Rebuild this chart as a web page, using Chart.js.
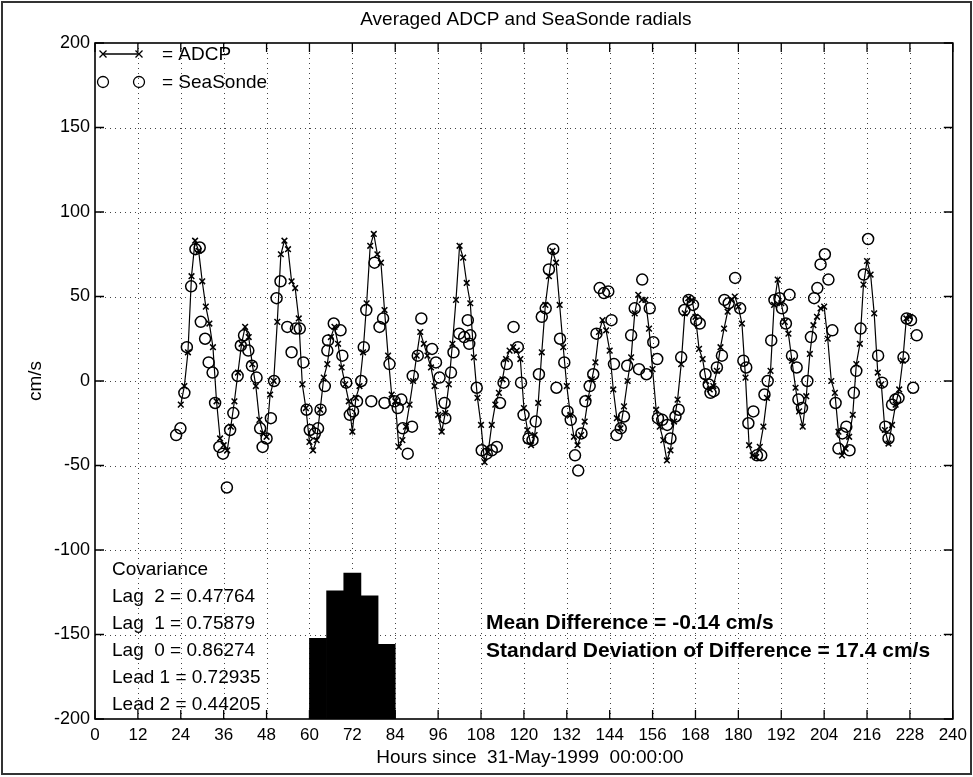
<!DOCTYPE html>
<html>
<head>
<meta charset="utf-8">
<title>Averaged ADCP and SeaSonde radials</title>
<script src="https://cdn.jsdelivr.net/npm/chart.js@4.4.1/dist/chart.umd.min.js"></script>
<style>
  html, body { margin: 0; padding: 0; background: #fff; }
  canvas { display: block; }
</style>
</head>
<body>
<canvas id="chart" width="973" height="777"></canvas>
<script>
// 🔹 DATA
// ADCP radial, one value per hour starting at hour 24
const adcpStartHour = 24;
const adcpValues = [
  -14, -3, 17, 62, 83, 77, 59, 44, 34, 20, -12, -34,      // 24-35
  -38, -41, -27, -12, 5, 22, 32, 26, 10, -3, -23, -31,    // 36-47
  -33, -8, 0, 35, 75, 83, 78, 59, 55, 37, -2, -16,        // 48-59
  -36, -41, -35, -17, 2, 10, 26, 32, 22, 8, -2, -12,      // 60-71
  -30, -10, -3, 17, 46, 80, 87, 75, 70, 42, 15, -8,       // 72-83
  -12, -39, -35, -27, -14, 0, 15, 29, 22, 15, 8, -3,      // 84-95
  -20, -30, -19, -2, 22, 48, 80, 73, 58, 46, 14, -10,     // 96-107
  -26, -48, -42, -26, -14, -7, 1, 13, 18, 20, 18, 13,     // 108-119
  -16, -29, -38, -32, -13, 17, 45, 62, 77, 70, 45, 20,    // 120-131
  -3, -20, -33, -38, -32, -24, -10, 1, 11, 29, 36, 30,    // 132-143
  18, -5, -22, -28, -15, 0, 14, 40, 51, 48, 48, 31,       // 144-155
  7, -17, -27, -35, -47, -41, -24, -11, 10, 40, 49, 48,   // 156-167
  38, 19, 13, 0, -5, -3, 6, 20, 31, 41, 48, 50,           // 168-179
  44, 34, 2, -38, -44, -45, -39, -27, -10, 6, 45, 60,     // 180-191
  46, 35, 28, 12, -4, -18, -27, -9, 16, 33, 38, 43,       // 192-203
  44, 25, 0, -7, -30, -44, -40, -33, -20, 10, 22, 57,     // 204-215
  71, 63, 40, 5, -2, -29, -37, -26, -14, -5, 12, 37,      // 216-227
  38                                                      // 228
];

// SeaSonde radial (hours since start, cm/s)
const sondeHours = [
  22.7, 23.9, 25.0, 25.7, 26.9, 28.1, 29.3, 29.6, 30.8, 31.8, 32.9, 33.6,
  34.8, 35.8, 36.9, 37.8, 38.7, 39.9, 40.8, 41.7, 42.9, 43.9, 45.2, 46.2,
  46.9, 48.0, 49.2, 50.1, 50.8, 51.9, 53.8, 55.0, 56.2, 57.3, 58.3, 59.2,
  60.1, 61.5, 62.4, 63.1, 64.3, 65.0, 65.2, 66.8, 68.7, 69.2, 70.3, 71.3,
  72.2, 73.3, 74.5, 75.2, 75.9, 77.3, 78.2, 79.6, 80.6, 81.0, 82.4, 83.8,
  84.7, 85.7, 86.1, 87.5, 88.7, 88.9, 90.3, 91.3, 94.3, 95.4, 96.4, 97.8,
  98.0, 99.6, 100.3, 101.9, 103.3, 104.3, 104.7, 105.0, 106.8, 108.2, 109.6, 111.0,
  112.4, 113.3, 114.3, 115.2, 117.1, 118.3, 119.2, 119.9, 121.3, 122.4, 123.3, 124.2,
  125.0, 126.1, 127.0, 128.2, 129.1, 130.1, 131.3, 132.2, 133.1, 134.3, 135.2, 136.1,
  137.2, 138.4, 139.4, 140.3, 141.2, 142.4, 143.6, 144.5, 145.2, 145.9, 147.1, 148.0,
  148.9, 150.0, 151.0, 152.2, 153.1, 154.3, 155.2, 156.2, 157.3, 157.5, 158.7, 160.1,
  161.0, 162.4, 163.3, 164.0, 164.9, 166.1, 167.3, 168.2, 169.2, 170.8, 171.7, 172.2,
  173.1, 174.0, 175.4, 176.1, 177.3, 179.1, 180.5, 181.4, 182.2, 182.8, 184.2, 185.2,
  186.4, 187.3, 188.2, 189.2, 190.1, 191.5, 192.2, 193.3, 194.3, 195.0, 196.3, 196.8,
  197.8, 199.3, 200.3, 201.2, 202.1, 203.0, 204.2, 205.2, 206.3, 207.2, 208.0, 209.1,
  210.2, 211.1, 212.3, 213.0, 214.2, 215.1, 216.3, 219.1, 220.2, 221.1, 222.0, 223.0,
  223.9, 224.8, 226.2, 227.1, 228.3, 228.9, 229.9
];
const sondeValues = [
  -32, -28, -7, 20, 56, 78, 79, 35, 25, 11, 5, -13,
  -39, -43, -63, -29, -19, 3, 21, 27, 18, 9, 2, -28,
  -39, -34, -22, 0, 49, 59, 32, 17, 31, 31, 11, -17,
  -29, -31, -28, -17, -3, 18, 24, 34, 30, 15, -1, -20,
  -18, -12, 0, 20, 42, -12, 70, 32, 37, -13, 10, -12,
  -16, -11, -28, -43, -27, 3, 15, 37, 19, 11, 2, -13,
  -22, 5, 17, 28, 26, 36, 22, 27, -4, -41, -43, -41,
  -39, -13, -1, 10, 32, 20, -1, -20, -34, -35, -24, 4,
  38, 43, 66, 78, -4, 25, 11, -18, -23, -44, -53, -31,
  -12, -3, 4, 28, 55, 52, 53, 36, 10, -32, -28, -21,
  9, 27, 43, 7, 60, 4, 43, 23, 13, -22, -23, -26,
  -34, -21, -17, 14, 42, 48, 45, 36, 34, 4, -2, -7,
  -6, 8, 15, 48, 46, 61, 43, 12, 8, -25, -18, -44,
  -44, -8, 0, 24, 48, 49, 43, 34, 51, 15, 8, -11,
  -16, 0, 26, 49, 55, 69, 75, 60, 30, -13, -40, -31,
  -27, -41, -7, 6, 31, 63, 84, 15, -1, -27, -34, -14,
  -11, -10, 14, 37, 36, -4, 27
];

// lagged covariance, drawn as bars standing on the bottom axis
const covLabels = ["Lag  2", "Lag  1", "Lag  0", "Lead 1", "Lead 2"];
const covValues = [0.47764, 0.75879, 0.86274, 0.72935, 0.44205];
const covBarHours = [62.4, 67.2, 72.0, 76.8, 81.6];
const covScale = 100; // bar height in cm/s units per unit covariance

const meanDifference = -0.14;
const stdDifference = 17.4;

// axes
const xMin = 0, xMax = 240, xStep = 12;
const yMin = -200, yMax = 200, yStep = 50;

const FONT = '"Liberation Sans", Arial, Helvetica, sans-serif';

const adcpPoints = adcpValues.map((v, i) => ({ x: adcpStartHour + i, y: v }));
const sondePoints = sondeHours.map((h, i) => ({ x: h, y: sondeValues[i] }));
const covPoints = covBarHours.map((h, i) => ({ x: h, y: [yMin, yMin + covValues[i] * covScale] }));

// 🔹 MATLAB STYLE AXES BOX, GRID, LEGEND, TEXT
const matlabAxes = {
  id: "matlabAxes",
  beforeDraw(chart) {
    const ctx = chart.ctx;
    ctx.save();
    ctx.fillStyle = "#fff";
    ctx.fillRect(0, 0, chart.width, chart.height);
    // outer frame of the figure
    ctx.strokeStyle = "#333";
    ctx.lineWidth = 2;
    ctx.strokeRect(2, 2, chart.width - 4, chart.height - 5);
    ctx.restore();
  },
  beforeDatasetsDraw(chart) {
    const { ctx, chartArea: a, scales: { x, y } } = chart;
    ctx.save();
    ctx.strokeStyle = "#444";
    ctx.lineWidth = 1;
    ctx.setLineDash([1, 4]);
    x.ticks.forEach(t => {
      if (t.value <= x.min || t.value >= x.max) return;
      const px = Math.round(x.getPixelForValue(t.value)) + 0.5;
      ctx.beginPath(); ctx.moveTo(px, a.top); ctx.lineTo(px, a.bottom); ctx.stroke();
    });
    y.ticks.forEach(t => {
      if (t.value <= y.min || t.value >= y.max) return;
      const py = Math.round(y.getPixelForValue(t.value)) + 0.5;
      ctx.beginPath(); ctx.moveTo(a.left, py); ctx.lineTo(a.right, py); ctx.stroke();
    });
    ctx.restore();
  },
  afterDatasetsDraw(chart) {
    const { ctx, chartArea: a, scales: { x, y } } = chart;
    ctx.save();

    // box + inner ticks
    ctx.strokeStyle = "#000";
    ctx.lineWidth = 1.6;
    ctx.strokeRect(a.left, a.top, a.right - a.left, a.bottom - a.top);
    const tl = 9;
    ctx.lineWidth = 1.3;
    x.ticks.forEach(t => {
      const px = x.getPixelForValue(t.value);
      ctx.beginPath();
      ctx.moveTo(px, a.bottom); ctx.lineTo(px, a.bottom - tl);
      ctx.moveTo(px, a.top); ctx.lineTo(px, a.top + tl);
      ctx.stroke();
    });
    y.ticks.forEach(t => {
      const py = y.getPixelForValue(t.value);
      ctx.beginPath();
      ctx.moveTo(a.left, py); ctx.lineTo(a.left + tl, py);
      ctx.moveTo(a.right, py); ctx.lineTo(a.right - tl, py);
      ctx.stroke();
    });

    // legend (top left, inside the axes)
    const lx1 = a.left + 8, lx2 = a.left + 44, ltx = a.left + 67;
    const ly1 = a.top + 11, ly2 = a.top + 39;
    ctx.lineWidth = 1.3;
    ctx.beginPath(); ctx.moveTo(lx1, ly1); ctx.lineTo(lx2, ly1); ctx.stroke();
    [lx1, lx2].forEach(cx => {
      ctx.beginPath();
      ctx.moveTo(cx - 3.5, ly1 - 3.5); ctx.lineTo(cx + 3.5, ly1 + 3.5);
      ctx.moveTo(cx - 3.5, ly1 + 3.5); ctx.lineTo(cx + 3.5, ly1 - 3.5);
      ctx.stroke();
      ctx.beginPath(); ctx.arc(cx, ly2, 5.5, 0, Math.PI * 2); ctx.stroke();
    });
    ctx.fillStyle = "#000";
    ctx.font = "19px " + FONT;
    ctx.textAlign = "left";
    ctx.textBaseline = "middle";
    ctx.fillText("= ADCP", ltx, ly1 + 1);
    ctx.fillText("= SeaSonde", ltx, ly2 + 1);

    // covariance table
    const cx0 = a.left + 17;
    let cy = a.bottom - 149;
    ctx.fillText("Covariance", cx0, cy);
    covLabels.forEach((lab, i) => {
      cy += 26.9;
      ctx.fillText(lab + " = " + covValues[i].toFixed(5), cx0, cy);
    });

    // difference stats
    ctx.font = "bold 21px " + FONT;
    ctx.fillText("Mean Difference = " + meanDifference.toFixed(2) + " cm/s", 486, 623);
    ctx.fillText("Standard Deviation of Difference = " + stdDifference.toFixed(1) + " cm/s", 486, 651);

    // title + axis labels
    ctx.font = "19px " + FONT;
    ctx.textAlign = "center";
    ctx.fillText("Averaged ADCP and SeaSonde radials", (a.left + a.right) / 2 + 2, 20);
    ctx.fillText("Hours since  31-May-1999  00:00:00", (a.left + a.right) / 2 + 6, 758);
    ctx.translate(36, (a.top + a.bottom) / 2);
    ctx.rotate(-Math.PI / 2);
    ctx.fillText("cm/s", 0, 0);
    ctx.restore();
  }
};

// 🔥 CHART
new Chart(document.getElementById("chart"), {
  type: "scatter",
  data: {
    datasets: [
      {
        label: "ADCP",
        data: adcpPoints,
        showLine: true,
        borderColor: "#000",
        borderWidth: 1.2,
        pointStyle: "crossRot",
        pointRadius: 4,
        pointBorderWidth: 1.5,
        pointBorderColor: "#000",
        tension: 0
      },
      {
        label: "SeaSonde",
        data: sondePoints,
        showLine: false,
        pointStyle: "circle",
        pointRadius: 5.5,
        pointBorderWidth: 1.5,
        pointBorderColor: "#000",
        pointBackgroundColor: "rgba(0,0,0,0)"
      },
      {
        type: "bar",
        label: "Covariance",
        data: covPoints,
        backgroundColor: "#000",
        borderWidth: 0,
        barPercentage: 1,
        categoryPercentage: 1
      }
    ]
  },
  options: {
    responsive: false,
    animation: false,
    events: [],
    layout: { padding: { top: 43, right: 15, left: 0, bottom: 0 } },
    plugins: {
      legend: { display: false },
      title: { display: false },
      tooltip: { enabled: false }
    },
    scales: {
      x: {
        type: "linear",
        min: xMin,
        max: xMax,
        offset: false,
        grid: { display: false, drawTicks: false, offset: false },
        border: { display: false },
        ticks: {
          stepSize: xStep,
          autoSkip: false,
          maxRotation: 0,
          padding: 6,
          color: "#000",
          font: { family: FONT, size: 17 }
        },
        afterFit: s => { s.height = 58; }
      },
      y: {
        type: "linear",
        min: yMin,
        max: yMax,
        grid: { display: false, drawTicks: false },
        border: { display: false },
        ticks: {
          stepSize: yStep,
          padding: 5,
          color: "#000",
          font: { family: FONT, size: 18 }
        },
        afterFit: s => { s.width = 95; }
      }
    }
  },
  plugins: [matlabAxes]
});
</script>
</body>
</html>
